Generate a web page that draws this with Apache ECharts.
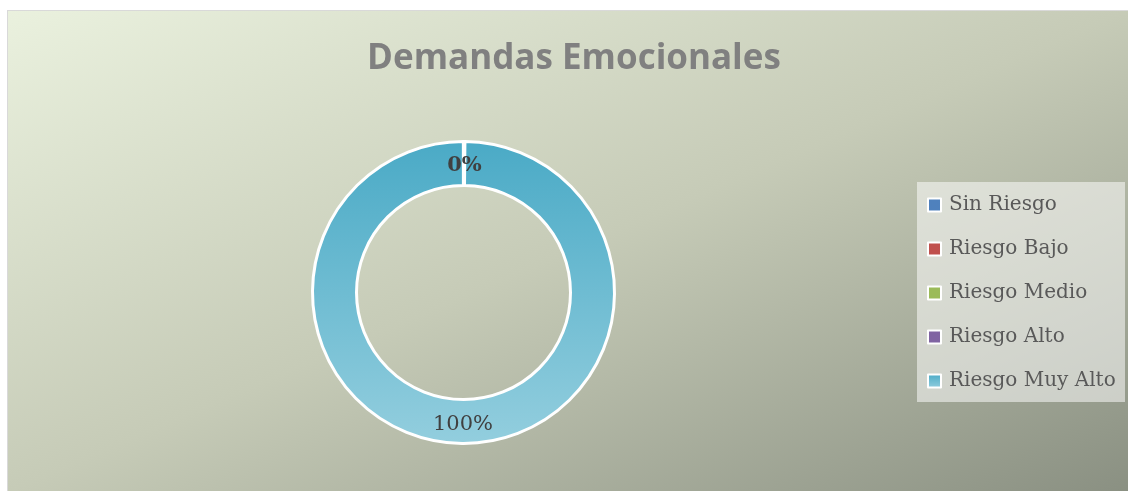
<!DOCTYPE html>
<html>
<head>
<meta charset="utf-8">
<script src="https://cdn.jsdelivr.net/npm/echarts@6/dist/echarts.min.js"></script>
<style>
  html, body { margin: 0; padding: 0; background: #fff; }
  .frame {
    position: absolute;
    left: 7px;
    top: 10px;
    border-left: 1px solid #d9d9d9;
    border-top: 1px solid #d9d9d9;
  }
  .pie-echart { width: 1120px; height: 480px; }
</style>
</head>
<body>
<div class="frame"><div class="pie-echart" id="chart"></div></div>
<script>
var categories = ['Sin Riesgo', 'Riesgo Bajo', 'Riesgo Medio', 'Riesgo Alto', 'Riesgo Muy Alto']
var values = [0, 0, 0, 0, 100]
var colors = ['#4f81bd', '#c0504d', '#9bbb59', '#8064a2', '#4bacc6']

var echart = echarts.init(document.getElementById('chart'))

var grad = function (top, bottom) {
  return new echarts.graphic.LinearGradient(0, 0, 0, 1, [
    { offset: 0, color: top },
    { offset: 1, color: bottom }
  ])
}

var option = {
  animation: false,
  graphic: [{
    type: 'rect',
    z: -10,
    silent: true,
    shape: { x: 0, y: 0, width: 1120, height: 480 },
    style: {
      // diagonal fill, top-right and bottom-left are about the same tone
      fill: new echarts.graphic.LinearGradient(0, 0, 349, 812, [
        { offset: 0, color: '#eaf1de' },
        { offset: 0.5, color: '#c6cbb7' },
        { offset: 1, color: '#8a9082' }
      ], true)
    }
  }, {
    type: 'rect',
    z: -5,
    silent: true,
    shape: { x: 909, y: 171, width: 208, height: 220 },
    style: { fill: 'rgba(255,255,255,0.52)' }
  }],
  title: {
    text: 'Demandas Emocionales',
    left: 561,
    top: 26,
    textAlign: 'center',
    textStyle: {
      fontFamily: 'Open Sans',
      fontWeight: 'bold',
      fontSize: 35,
      color: '#808080'
    }
  },
  legend: {
    orient: 'vertical',
    left: 919,
    top: 184,
    padding: 0,
    itemGap: 24,
    itemWidth: 13,
    itemHeight: 13,
    selectedMode: false,
    icon: 'rect',
    itemStyle: { borderColor: '#fff', borderWidth: 2 },
    textStyle: {
      fontFamily: 'DejaVu Serif',
      fontSize: 20,
      lineHeight: 20,
      color: '#595959',
      padding: [0, 0, 0, 3]
    },
    data: categories
  },
  series: [{
    type: 'pie',
    center: [455.5, 281.5],
    radius: [107, 151],
    startAngle: 90,
    clockwise: true,
    padAngle: 0.12,
    silent: true,
    itemStyle: { borderColor: '#fff', borderWidth: 3 },
    label: {
      show: true,
      position: 'inside',
      formatter: '{d}%',
      fontFamily: 'DejaVu Serif',
      fontSize: 21,
      color: '#404040'
    },
    labelLine: { show: false },
    data: categories.map(function (name, i) {
      var c = i === 4 ? grad('#4aaac6', '#93cede') : colors[i]
      var item = { name: name, value: values[i], itemStyle: { color: c } }
      if (values[i] === 0) {
        item.label = { fontWeight: 'bold', offset: [0, 5] }
      }
      return item
    })
  }]
}

echart.setOption(option)
</script>
</body>
</html>
